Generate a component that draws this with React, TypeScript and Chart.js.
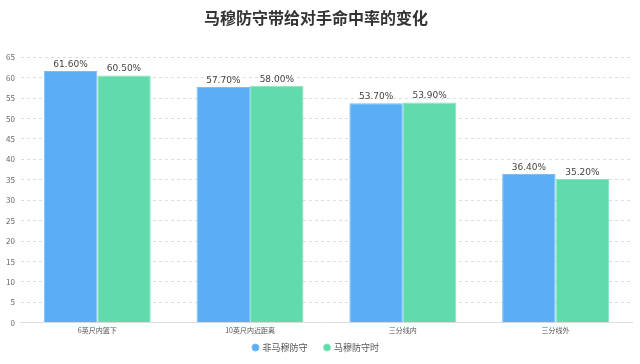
import React, { useEffect, useRef } from "react";
import { Chart, registerables } from "chart.js";

Chart.register(...registerables);

const categories = ["6英尺内篮下", "10英尺内近距离", "三分线内", "三分线外"];
const seriesNames = ["非马穆防守", "马穆防守时"];
const nonMamu = [61.6, 57.7, 53.7, 36.4];
const withMamu = [60.5, 58.0, 53.9, 35.2];
const yTicksMax = 65;
const yTicksStep = 5;

const valueLabels = {
  id: "valueLabels",
  afterDatasetsDraw(chart: any) {
    const ctx = chart.ctx;
    ctx.save();
    ctx.font = "9px 'DejaVu Sans', sans-serif";
    ctx.fillStyle = "#444";
    ctx.textAlign = "center";
    ctx.textBaseline = "bottom";
    chart.data.datasets.forEach((ds: any, i: number) => {
      const meta = chart.getDatasetMeta(i);
      meta.data.forEach((bar: any, j: number) => {
        ctx.fillText(ds.data[j].toFixed(2) + "%", bar.x, bar.y - 2);
      });
    });
    ctx.restore();
  },
};

export default function App() {
  const ref = useRef<HTMLCanvasElement>(null);
  useEffect(() => {
    if (!ref.current) return;
    const font = "'Noto Sans CJK SC', sans-serif";
    const chart = new Chart(ref.current, {
      type: "bar",
      data: {
        labels: categories,
        datasets: [
          {
            label: seriesNames[0],
            data: nonMamu,
            backgroundColor: "#5aaef5",
            borderColor: "#7bbef7",
            borderWidth: 1,
            categoryPercentage: 0.7,
            barPercentage: 1,
          },
          {
            label: seriesNames[1],
            data: withMamu,
            backgroundColor: "#62dbac",
            borderColor: "#84e4bf",
            borderWidth: 1,
            categoryPercentage: 0.7,
            barPercentage: 1,
          },
        ],
      },
      options: {
        animation: false,
        responsive: false,
        layout: { padding: { left: 0, right: 8, top: 0, bottom: 2 } },
        plugins: {
          title: {
            display: true,
            text: "马穆防守带给对手命中率的变化",
            font: { family: font, size: 16, weight: "bold" },
            color: "#333",
            padding: { top: 8, bottom: 30 },
          },
          legend: {
            position: "bottom",
            labels: {
              usePointStyle: true,
              pointStyle: "circle",
              boxWidth: 5,
              boxHeight: 5,
              font: { family: font, size: 9 },
              color: "#555",
              padding: 6,
              generateLabels: (chart: any) => {
                const items = (Chart.defaults.plugins.legend.labels as any).generateLabels(chart);
                if (items.length > 0) items[0].text = items[0].text + "\u3000 ";
                return items;
              },
            },
          },
          tooltip: { enabled: false },
        },
        scales: {
          x: {
            grid: { display: false, drawTicks: false },
            border: { display: true, color: "#ddd", width: 1 },
            ticks: { font: { family: font, size: 7, lineHeight: 0.6 }, color: "#555", padding: 5 },
          },
          y: {
            min: 0,
            max: yTicksMax,
            ticks: { stepSize: yTicksStep, font: { family: font, size: 8 }, color: "#666", padding: 6 },
            grid: { color: "#ddd", drawTicks: false },
            border: { display: false, dash: [3, 3] },
          },
        },
      },
      plugins: [valueLabels],
    });
    return () => chart.destroy();
  }, []);
  return (
    <div style={{ position: "absolute", left: 0, top: 0, width: 640, height: 364 }}>
      <canvas ref={ref} width={640} height={364} />
    </div>
  );
}
